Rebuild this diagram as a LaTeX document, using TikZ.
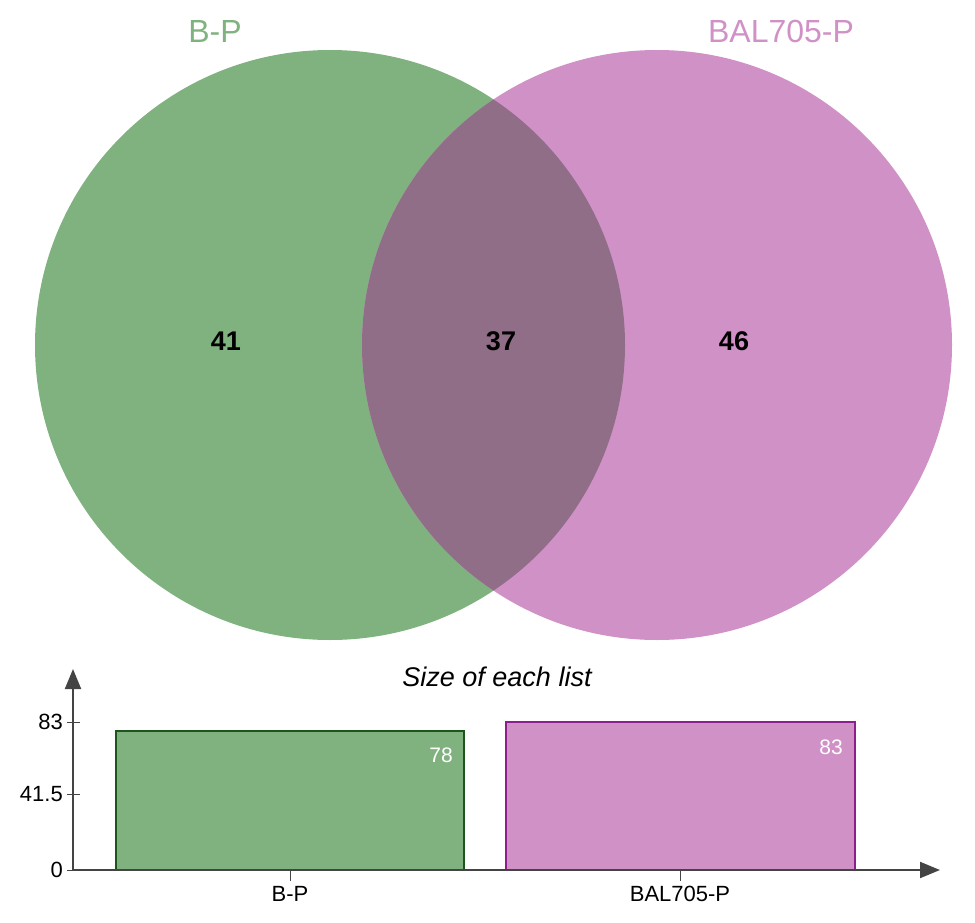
\documentclass[tikz,border=0pt]{standalone}
\usepackage{fontspec}
\setmainfont{Liberation Sans}
\usetikzlibrary{arrows.meta}
\definecolor{vgreen}{HTML}{80B280}
\definecolor{vpink}{HTML}{D091C7}
\definecolor{vover}{HTML}{916E88}
\definecolor{bgreen}{HTML}{1C561C}
\definecolor{bpink}{HTML}{8E1E8C}
\definecolor{axisgray}{HTML}{444444}
\newcommand{\fs}[1]{\fontsize{#1}{#1}\selectfont}
\tikzset{
  setlabel/.style={font=\fs{32}, inner sep=0pt},
  countlabel/.style={font=\fs{27}\bfseries, inner sep=0pt},
  ticklabel/.style={font=\fs{22}, inner sep=0pt},
  barvalue/.style={font=\fs{21}, text=white, inner sep=0pt},
  axisline/.style={draw=axisgray, line width=2pt, -{Triangle[length=20pt,width=16pt]}},
  tickline/.style={draw=axisgray, line width=1pt}
}
\begin{document}
\begin{tikzpicture}[x=1pt,y=-1pt]
\useasboundingbox (0,0) rectangle (975,923);
% Venn circles
\fill[vgreen] (330,345) circle (295);
\fill[vpink] (657,345) circle (295);
\begin{scope}
  \clip (330,345) circle (295);
  \fill[vover] (657,345) circle (295);
\end{scope}
% set labels
\node[setlabel, text=vgreen] (lA) at (215,31) {B-P};
\node[setlabel, text=vpink] (lB) at (781,31) {BAL705-P};
% counts
\node[countlabel] (c1) at (226,341) {41};
\node[countlabel] (c2) at (501,341) {37};
\node[countlabel] (c3) at (734,341) {46};
% bar chart title
\node[font=\fs{27}\itshape, inner sep=0pt] (title) at (497,677) {Size of each list};
% bars
\draw[fill=vgreen, draw=bgreen, line width=1.5pt] (116,870) rectangle (464,731);
\draw[fill=vpink, draw=bpink, line width=1.5pt] (506,870) rectangle (855,722);
\node[barvalue, anchor=east] (v1) at (453,755) {78};
\node[barvalue, anchor=east] (v2) at (843,747) {83};
% axes
\coordinate (o) at (73,870);
\coordinate (ytop) at (73,669);
\coordinate (xend) at (940,870);
\draw[axisline] (o) -- (ytop);
\draw[axisline] (o) -- (xend);
% y ticks
\foreach \yy/\lab in {722/83, 794/41.5, 870/0}{
  \draw[tickline] (67,\yy) -- (80,\yy);
  \node[ticklabel, anchor=east] at (63,\yy) {\lab};
}
% x ticks
\draw[tickline] (290,870) -- (290,881);
\draw[tickline] (680,870) -- (680,881);
\node[ticklabel] (xl1) at (290,894) {B-P};
\node[ticklabel] (xl2) at (680,894) {BAL705-P};
\end{tikzpicture}
\end{document}
